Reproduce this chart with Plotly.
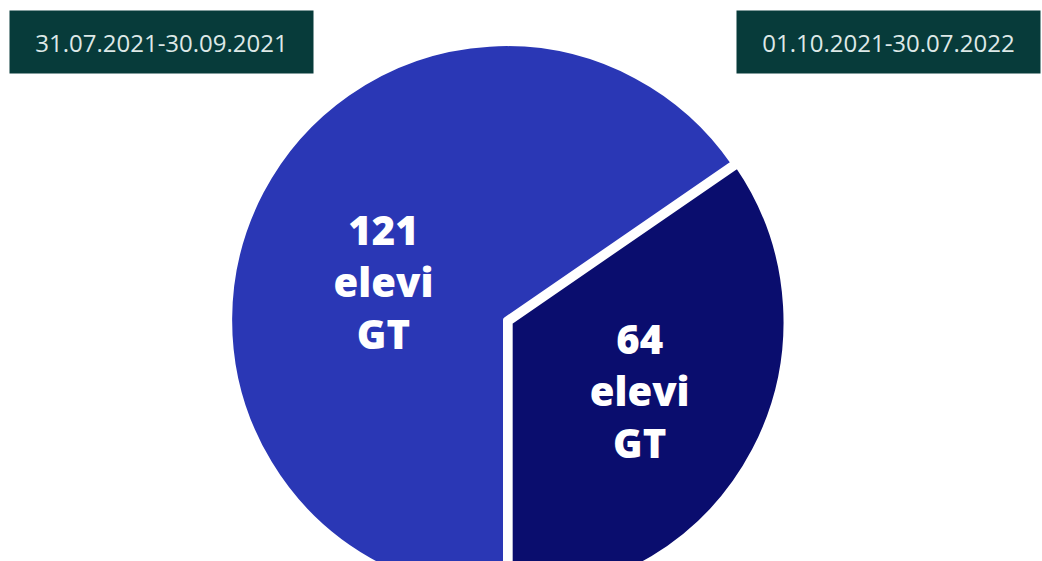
import plotly.graph_objects as go

# ---- data ----
periods = ["31.07.2021-30.09.2021", "01.10.2021-30.07.2022"]
values = [121, 64]
unit_lines = ["elevi", "GT"]

slice_colors = ["#2a37b5", "#0a0d6e"]
box_color = "#073b3a"

W, H = 1042, 620

texts = [f"{v}<br>{unit_lines[0]}<br>{unit_lines[1]}" for v in values]
texts[0] = "&#160;<br>" + texts[0]

cx, cy, half = 506, 320, 281
fig = go.Figure()
fig.add_trace(go.Pie(
    labels=periods,
    values=values,
    sort=False,
    direction="clockwise",
    rotation=180,
    pull=[0, 0.015],
    text=texts,
    textinfo="text",
    textposition="inside",
    insidetextorientation="horizontal",
    textfont=dict(family="Open Sans", size=40, color="white", weight=800),
    marker=dict(colors=slice_colors, line=dict(color="white", width=6)),
    hoverinfo="label+value",
    domain=dict(x=[(cx - half) / W, (cx + half) / W],
                y=[(H - cy - half) / H, (H - cy + half) / H]),
    showlegend=False,
))

box_x = [9, 736]
for i, p in enumerate(periods):
    fig.add_annotation(
        x=box_x[i] / W, y=(H - 10) / H, xref="paper", yref="paper",
        xanchor="left", yanchor="top",
        text=p, showarrow=False,
        width=303, height=62, borderpad=0,
        bgcolor=box_color, align="center", valign="middle",
        font=dict(family="Open Sans", size=24, color="#dde8e7"),
    )

fig.update_layout(
    width=W, height=H,
    margin=dict(l=0, r=0, t=0, b=0),
    paper_bgcolor="white", plot_bgcolor="white",
)

fig.write_html(
    "out.html",
    config={"displayModeBar": False},
    post_script="document.body.style.margin='0';document.body.style.overflow='hidden';document.documentElement.style.overflow='hidden';",
)
